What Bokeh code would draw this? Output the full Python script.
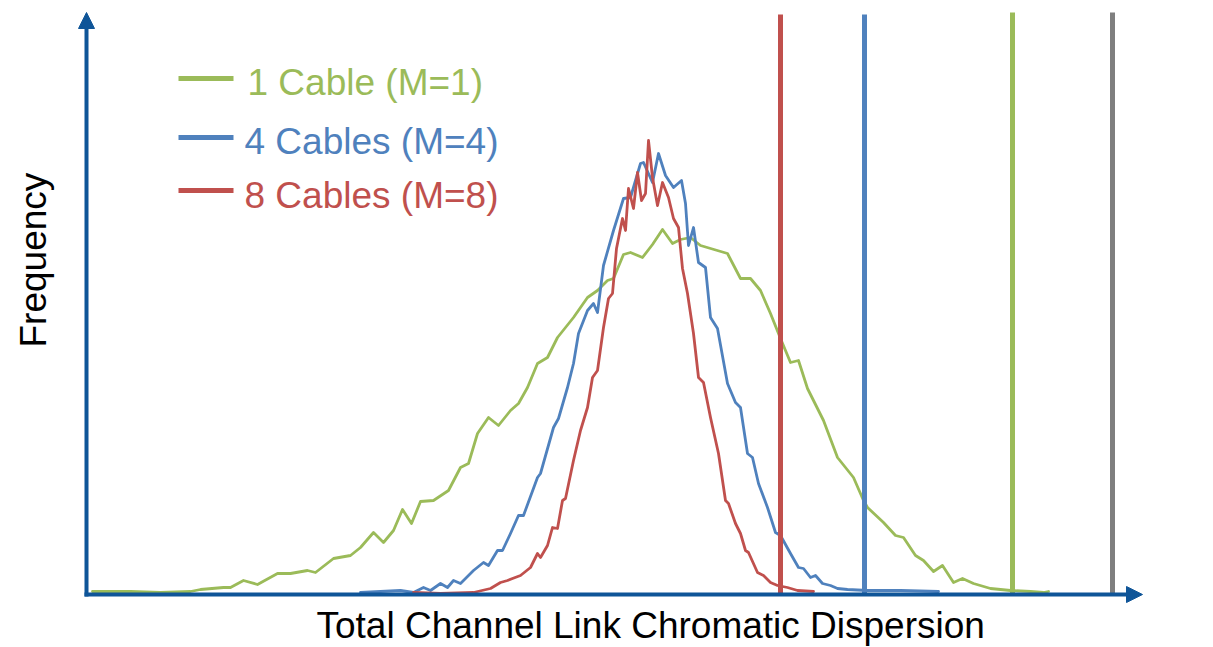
import math
from bokeh.plotting import figure
from bokeh.models import Range1d, Label, Arrow, NormalHead
from bokeh.embed import file_html
from bokeh.resources import INLINE

# ---- data (x = dispersion, y = frequency, arbitrary units) ----
green_x = [92, 130, 160, 190, 200, 223, 230, 243, 257, 277, 290, 307, 315, 333, 350, 360, 373, 383,
           393, 402, 411, 420, 433, 448, 460, 468, 477, 488, 498, 510, 518, 527, 537, 547, 557, 573,
           587, 597, 607, 613, 623, 630, 642, 652, 662, 672, 680, 690, 700, 727, 740, 750, 760, 770,
           780, 790, 798, 807, 823, 837, 853, 863, 867, 883, 895, 903, 915, 923, 933, 942, 953, 962,
           973, 990, 1010, 1030, 1043, 1048]
green_y = [3, 3, 2, 3, 5, 7, 7, 14, 10, 21, 21, 24, 22, 36, 39, 47, 62, 52,
           64, 85, 71, 93, 94, 104, 127, 131, 161, 177, 169, 184, 191, 207, 231, 237, 257, 277,
           297, 304, 314, 316, 340, 342, 337, 350, 365, 351, 355, 357, 349, 341, 316, 316, 304, 281,
           256, 232, 234, 206, 174, 137, 117, 94, 87, 72, 59, 57, 39, 34, 23, 29, 12, 16,
           11, 6, 4, 3, 2, 3]

blue_x = [360, 400, 413, 423, 430, 440, 447, 453, 460, 473, 483, 488, 497, 502, 510, 518, 523, 537,
          540, 553, 558, 567, 573, 578, 587, 593, 597, 603, 613, 623, 630, 640, 643, 652, 658, 665,
          673, 681, 685, 688, 693, 698, 705, 710, 717, 727, 735, 740, 747, 752, 758, 767, 775, 780,
          790, 798, 803, 810, 815, 822, 830, 837, 847, 867, 900, 938]
blue_y = [2, 4, 2, 7, 4, 11, 7, 14, 11, 24, 32, 29, 44, 44, 61, 79, 79, 117,
          121, 167, 176, 207, 231, 261, 284, 291, 282, 329, 364, 396, 397, 431, 432, 412, 441, 419,
          407, 414, 391, 349, 367, 332, 327, 277, 266, 211, 192, 187, 141, 137, 111, 87, 62, 59,
          41, 27, 26, 17, 19, 11, 9, 6, 5, 4, 4, 3]

red_x = [413, 440, 473, 490, 500, 507, 512, 520, 530, 537, 540, 547, 552, 557, 562, 565, 573, 580,
         587, 592, 597, 603, 608, 612, 616, 622, 625, 628, 633, 637, 641, 645, 648, 652, 657, 662,
         668, 673, 678, 682, 687, 693, 698, 703, 710, 718, 725, 728, 735, 740, 745, 748, 757, 763,
         770, 777, 787, 797, 813]
red_y = [2, 1, 2, 6, 12, 14, 16, 19, 27, 41, 37, 49, 67, 66, 94, 96, 134, 164,
         187, 217, 224, 267, 296, 301, 346, 376, 364, 406, 386, 422, 394, 401, 454, 417, 389, 412,
         397, 376, 367, 326, 301, 261, 217, 212, 177, 141, 94, 91, 71, 61, 44, 42, 22, 19,
         12, 9, 7, 4, 3]

series_labels = ["1 Cable (M=1)", "4 Cables (M=4)", "8 Cables (M=8)"]
series_colors = ["#9BBB59", "#4F81BD", "#C0504D"]

# vertical threshold markers (dispersion limits)
limit_x = [780, 864, 1012, 1112]
limit_top = [580, 580, 582, 582]
limit_colors = ["#C0504D", "#4F81BD", "#9BBB59", "#7F7F7F"]

x_title = "Total Channel Link Chromatic Dispersion"
y_title = "Frequency"

AXIS = "#0F5598"
FONT = "Liberation Sans"
FS = "37px"

p = figure(width=1213, height=647, output_backend="svg", toolbar_location=None,
           x_range=Range1d(0, 1213), y_range=Range1d(-53, 594),
           x_axis_type=None, y_axis_type=None, min_border=0)
p.outline_line_color = None
p.xgrid.visible = False
p.ygrid.visible = False
p.background_fill_color = "white"
p.border_fill_color = "white"

# curves
for xs, ys, c in [(green_x, green_y, series_colors[0]),
                  (blue_x, blue_y, series_colors[1]),
                  (red_x, red_y, series_colors[2])]:
    p.line(xs, ys, line_color=c, line_width=2.8, line_join="round", line_cap="round")

# vertical limit lines
p.segment(x0=limit_x, y0=[0] * len(limit_x), x1=limit_x, y1=limit_top,
          line_color=limit_colors, line_width=5, line_cap="butt")

# axes with arrows
x0_axis = 86
p.segment(x0=[x0_axis], y0=[-2], x1=[x0_axis], y1=[567], line_color=AXIS, line_width=4)
p.segment(x0=[x0_axis - 2], y0=[0], x1=[1127], y1=[0], line_color=AXIS, line_width=4)
p.add_layout(Arrow(end=NormalHead(size=16, fill_color=AXIS, line_color=AXIS, line_width=1),
                   x_start=x0_axis, y_start=560, x_end=x0_axis, y_end=582, line_alpha=0))
p.add_layout(Arrow(end=NormalHead(size=16, fill_color=AXIS, line_color=AXIS, line_width=1),
                   x_start=1120, y_start=0, x_end=1142, y_end=0, line_alpha=0))

# legend (manual)
leg_line_y = [516, 457, 404]
leg_text_y = [512, 453, 399]
leg_text_x = [247, 244, 244]
p.segment(x0=[178] * 3, y0=leg_line_y, x1=[233] * 3, y1=leg_line_y,
          line_color=series_colors, line_width=5)
for lbl, c, tx, ty in zip(series_labels, series_colors, leg_text_x, leg_text_y):
    p.add_layout(Label(x=tx, y=ty, text=lbl, text_color=c, text_font=FONT,
                       text_font_size=FS, text_align="left", text_baseline="alphabetic"))

# axis titles
p.add_layout(Label(x=316, y=-31, text=x_title, text_color="black", text_font=FONT,
                   text_font_size=FS, text_align="left", text_baseline="alphabetic"))
p.add_layout(Label(x=33, y=247, text=y_title, text_color="black", text_font=FONT,
                   text_font_size=FS, text_align="left", text_baseline="alphabetic",
                   angle=math.pi / 2))

open("out.html", "w").write(file_html(p, INLINE))
